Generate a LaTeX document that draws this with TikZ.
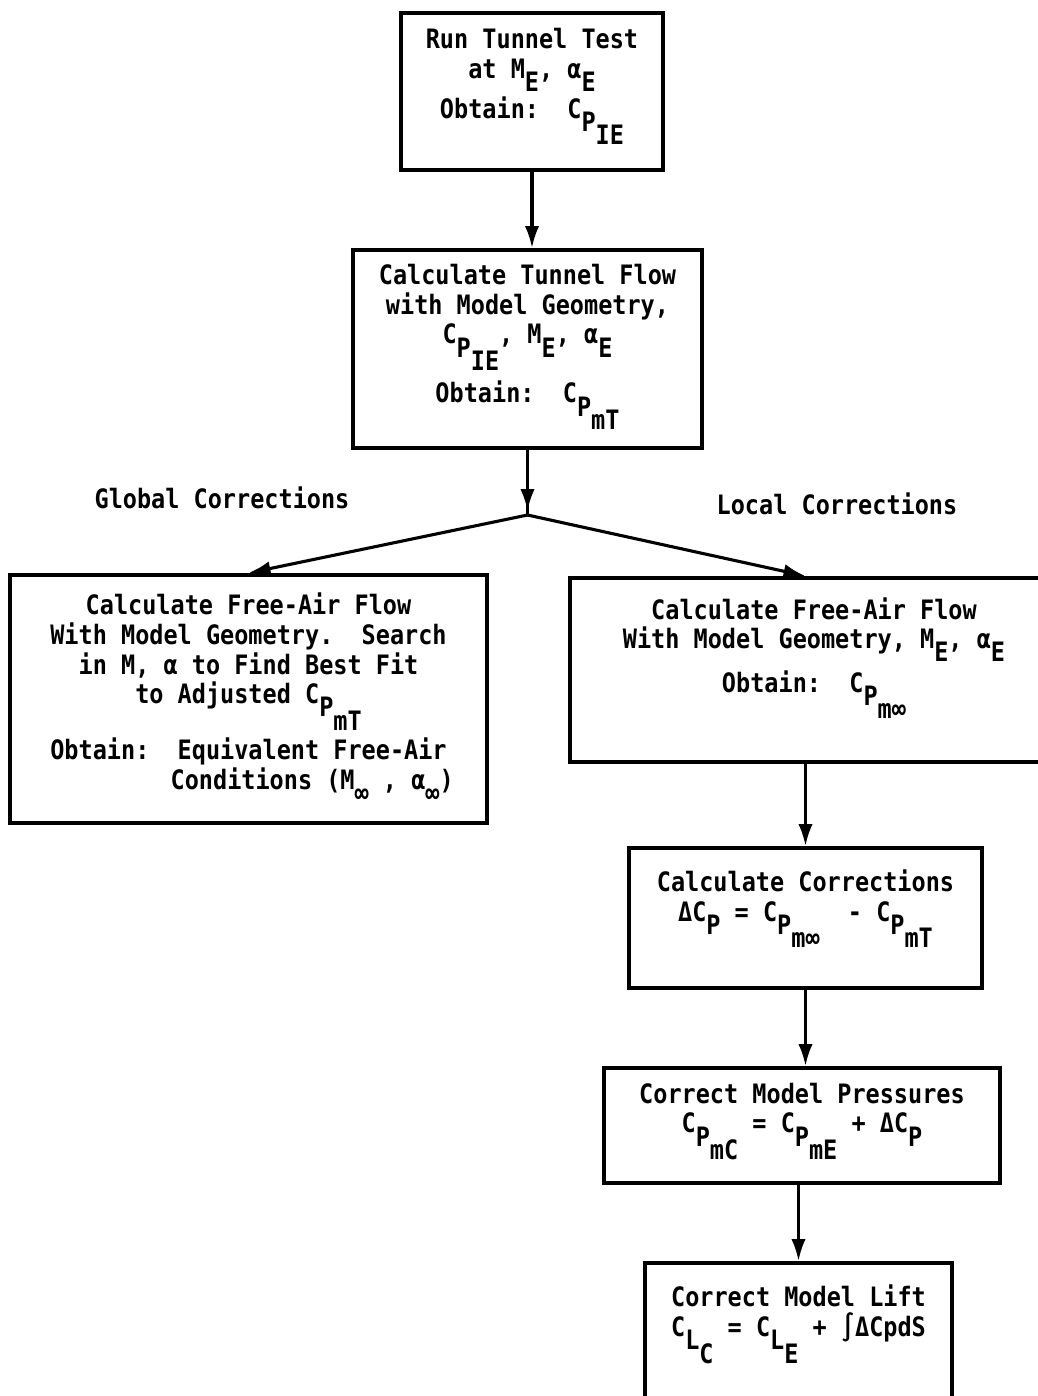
\documentclass[tikz,border=0pt]{standalone}
\usepackage{fontspec}
\setmonofont[FakeStretch=0.88]{DejaVu Sans Mono}
\usetikzlibrary{arrows.meta,positioning}
\newcommand{\dn}[1]{\smash{\raisebox{-0.5em}{#1}}}

\begin{document}
\begin{tikzpicture}[x=0.025cm,y=-0.025cm,
    font=\fontsize{19}{21}\selectfont\ttfamily\bfseries,
    box/.style={draw,line width=2.8pt,align=center,inner sep=0pt},
    flow/.style={line width=2.2pt,-{Latex[length=0.55cm,width=0.36cm]}}]
  \useasboundingbox (0,0) rectangle (1038,1396);
  \clip (0,0) rectangle (1038,1396);
  \node[box,minimum width=6.55cm,minimum height=3.925cm] (run) at (532,91.5)
    {Run Tunnel Test\\at M\dn{E}, α\dn{E}\\[7.5pt]Obtain:\ \ C\dn{P\dn{IE}}\\[5pt]\mbox{}};
  \node[box,minimum width=8.725cm,minimum height=4.95cm] (tunnel) at (527.5,349)
    {Calculate Tunnel Flow\\with Model Geometry,\\C\dn{P\dn{IE}}, M\dn{E}, α\dn{E}\\[21pt]Obtain:\ \ C\dn{P\dn{mT}}\\[1pt]\mbox{}};
  \coordinate (fork) at (527.5,515);
  \node (glob) at (222,498) {Global Corrections};
  \node (loc) at (837,504) {Local Corrections};
  \node[box,minimum width=11.925cm,minimum height=6.2cm] (global) at (248.5,699)
    {Calculate Free-Air Flow\\With Model Geometry.\ \ Search\\in M, α to Find Best Fit\\to Adjusted C\dn{P\dn{mT}}\\[19pt]Obtain:\ \ Equivalent Free-Air\\\phantom{Obtain:\ \ }Conditions (M\dn{∞} , α\dn{∞})\\[-10pt]\mbox{}};
  \node[box,minimum width=12.2cm,minimum height=4.6cm] (local) at (814,670)
    {Calculate Free-Air Flow\\With Model Geometry, M\dn{E}, α\dn{E}\\[10pt]Obtain:\ \ C\dn{P\dn{m∞}}\\[15pt]\mbox{}};
  \node[box,minimum width=8.825cm,minimum height=3.5cm] (corr) at (805.5,918)
    {Calculate Corrections\\ΔC\dn{P} = C\dn{P\dn{m∞}}\ \ - C\dn{P\dn{mT}}\\[11pt]\mbox{}};
  \node[box,minimum width=9.9cm,minimum height=2.875cm] (press) at (802,1125.5)
    {Correct Model Pressures\\C\dn{P\dn{mC}} = C\dn{P\dn{mE}} + ΔC\dn{P}\\[4pt]\mbox{}};
  \node[box,minimum width=7.675cm,minimum height=4.175cm] (lift) at (798.5,1346.5)
    {Correct Model Lift\\C\dn{L\dn{C}} = C\dn{L\dn{E}} + ∫ΔCpdS\\[30pt]\mbox{}};
  \draw[flow] (run.south) -- (run.south |- tunnel.north);
  \draw[line width=2.2pt] (tunnel.south) -- (fork);
  \draw[flow] (tunnel.south) -- ([yshift=0.1cm]fork);
  \draw[flow] (fork) -- (global.north);
  \draw[flow] (fork) -- (local.north -| corr.north);
  \draw[flow] (local.south -| corr.north) -- (corr.north);
  \draw[flow] (corr.south) -- (corr.south |- press.north);
  \draw[flow] (press.south -| lift.north) -- (lift.north);
\end{tikzpicture}
\end{document}
